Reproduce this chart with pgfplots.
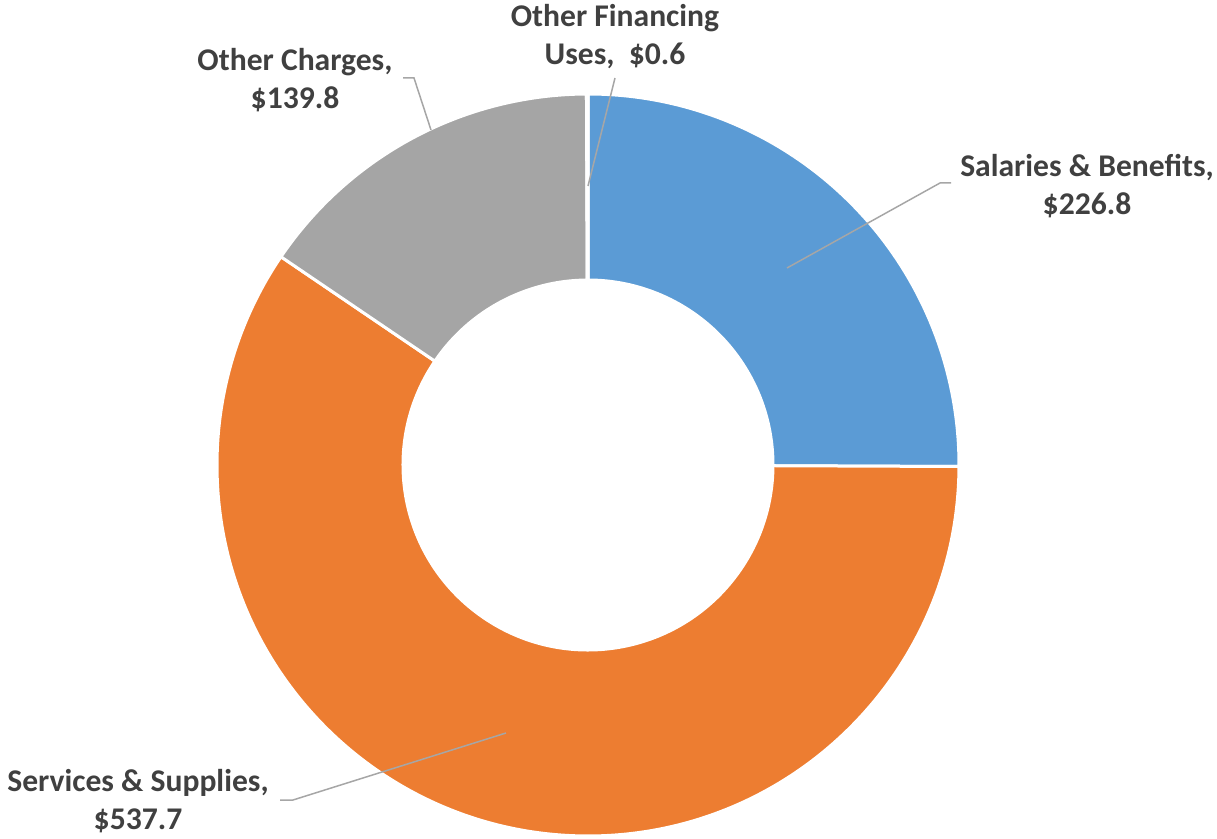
\documentclass[border=0pt]{standalone}
\usepackage{pgfplots}
\pgfplotsset{compat=1.18}
\usepackage{pgfplotstable}
\usepackage{fontspec}
\setmainfont{Carlito}
\definecolor{cBlue}{HTML}{5B9BD5}
\definecolor{cOrange}{HTML}{ED7D31}
\definecolor{cGray}{HTML}{A5A5A5}
\definecolor{cText}{HTML}{404040}
\definecolor{cLead}{HTML}{A6A6A6}
\pgfplotstableread{
label value
Salaries 226.8
Services 537.7
Charges 139.8
Financing 0.6
}\donutdata
\pgfplotstablegetelem{0}{value}\of\donutdata \let\va\pgfplotsretval
\pgfplotstablegetelem{1}{value}\of\donutdata \let\vb\pgfplotsretval
\pgfplotstablegetelem{2}{value}\of\donutdata \let\vc\pgfplotsretval
\pgfplotstablegetelem{3}{value}\of\donutdata \let\vd\pgfplotsretval
\pgfmathsetmacro\tot{\va+\vb+\vc+\vd}
\pgfmathsetmacro\aA{90}
\pgfmathsetmacro\aB{\aA-360*(\va/\tot)}
\pgfmathsetmacro\aC{\aB-360*(\vb/\tot)}
\pgfmathsetmacro\aD{\aC-360*(\vc/\tot)}
\pgfmathsetmacro\aE{\aD-360*(\vd/\tot)}
\def\Ro{185.5pt}
\def\Ri{92.5pt}
\newcommand\slice[3]{%
  \fill[#3,draw=white,line width=1.5pt,line join=miter,shift={(axis cs:588,371)}]
    (#1:\Ro) arc[start angle=#1,end angle=#2,radius=\Ro]
    -- (#2:\Ri) arc[start angle=#2,end angle=#1,radius=\Ri] -- cycle;}
\begin{document}
\begin{tikzpicture}
\begin{axis}[
  scale only axis, width=608.5pt, height=418pt,
  xmin=0, xmax=1217, ymin=0, ymax=836,
  hide axis, clip=false,
]
\path (axis cs:0,0) rectangle (axis cs:1217,836);
\slice{\aA}{\aB}{cBlue}
\slice{\aB}{\aC}{cOrange}
\slice{\aC}{\aD}{cGray}
\slice{\aD}{\aE}{cGray}
\draw[cLead,line width=0.75pt] (axis cs:787,568) -- (axis cs:940,653) -- (axis cs:951,653);
\draw[cLead,line width=0.75pt] (axis cs:506,103) -- (axis cs:293,36) -- (axis cs:280,36);
\draw[cLead,line width=0.75pt] (axis cs:431,706) -- (axis cs:414,758) -- (axis cs:403,758);
\draw[cLead,line width=0.75pt] (axis cs:588,650) -- (axis cs:615,758);
\tikzset{lab/.style={align=center,inner sep=0pt,text=cText,font=\fontsize{15.8}{19}\selectfont\bfseries}}
\node[lab] at (axis cs:615,799) {Other Financing\\Uses,\ \ \$0.6};
\node[lab] at (axis cs:295,756) {Other Charges,\\\$139.8};
\node[lab] at (axis cs:1087,650) {Salaries \& Benefits,\\\$226.8};
\node[lab] at (axis cs:138,35) {Services \& Supplies,\\\$537.7};
\end{axis}
\end{tikzpicture}
\end{document}
